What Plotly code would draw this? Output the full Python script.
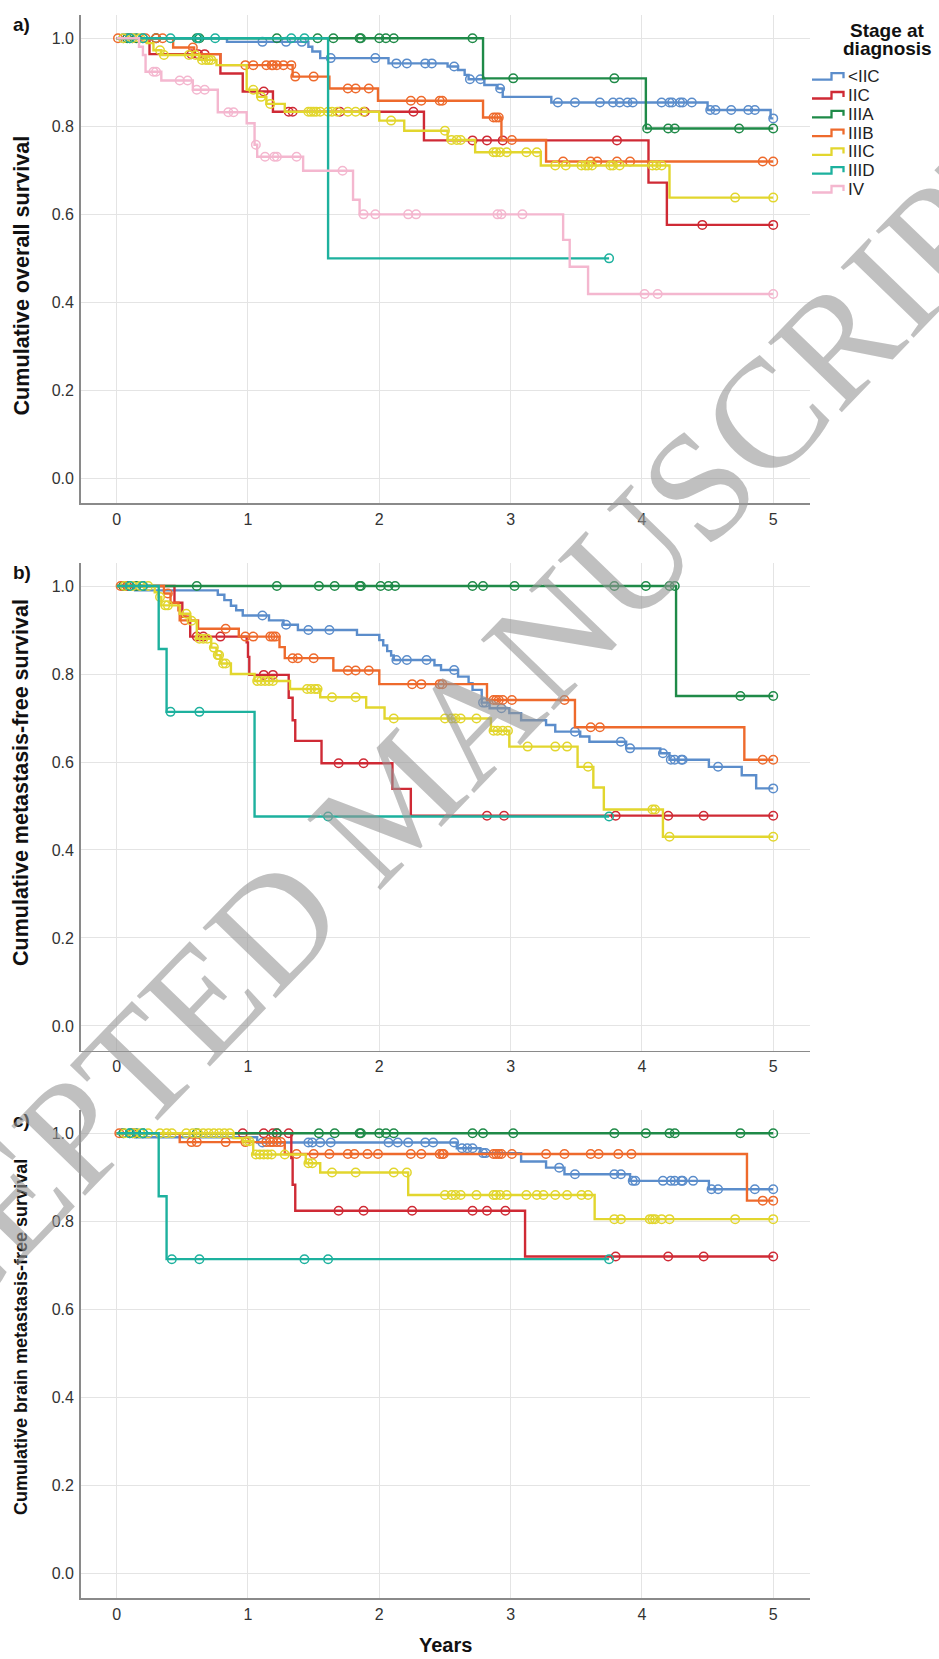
import plotly.graph_objects as go

W, H = 939, 1659

groups = ["<IIC", "IIC", "IIIA", "IIIB", "IIIC", "IIID", "IV"]
group_colors = ["#5B8DCB", "#CF2A35", "#1F8A48", "#EE6A2C", "#E2D62E", "#1DB19E", "#F4B7CF"]

# ---------------- Panel a: overall survival ----------------
os_ltIIC_t = [0.84, 1.46, 1.49, 1.55, 2.07, 2.52, 2.60, 2.65, 2.68, 2.80, 2.90, 2.94, 3.31, 4.50, 4.98]
os_ltIIC_s = [0.992, 0.981, 0.970, 0.955, 0.943, 0.936, 0.928, 0.917, 0.907, 0.894, 0.886, 0.867, 0.854, 0.837, 0.818]
os_ltIIC_c = [0.05, 0.12, 0.20, 0.30, 1.11, 1.29, 1.41, 1.63, 1.97, 2.13, 2.21, 2.35, 2.40, 2.57, 2.69, 2.77,
              2.92, 3.36, 3.49, 3.68, 3.78, 3.83, 3.89, 3.93, 4.15, 4.21, 4.23, 4.29, 4.31, 4.38, 4.52, 4.56,
              4.68, 4.81, 4.86, 5.0]

os_IIC_t = [0.25, 0.79, 0.96, 1.19, 2.34, 4.05, 4.19]
os_IIC_s = [0.964, 0.920, 0.879, 0.833, 0.768, 0.672, 0.576]
os_IIC_c = [0.10, 0.57, 0.62, 0.67, 1.12, 1.31, 1.34, 1.70, 1.89, 2.26, 2.71, 2.82, 2.94, 3.81, 4.46, 5.0]

os_IIIA_t = [2.79, 4.03]
os_IIIA_s = [0.909, 0.795]
os_IIIA_c = [0.08, 0.15, 0.30, 0.61, 0.63, 1.22, 1.53, 1.65, 1.85, 1.86, 2.00, 2.05, 2.11, 2.71, 3.02, 3.79,
             4.04, 4.20, 4.25, 4.74, 5.0]

os_IIIB_t = [0.43, 0.59, 0.79, 1.34, 1.62, 1.99, 2.79, 2.93, 3.27]
os_IIIB_s = [0.979, 0.964, 0.939, 0.913, 0.886, 0.858, 0.820, 0.769, 0.720]
os_IIIB_c = [0.01, 0.22, 0.30, 0.35, 0.58, 0.98, 1.04, 1.14, 1.18, 1.19, 1.22, 1.27, 1.33, 1.36, 1.50, 1.76,
             1.82, 1.92, 2.24, 2.32, 2.46, 2.48, 2.87, 2.89, 2.91, 3.01, 3.40, 3.61, 3.66, 3.81, 3.91, 4.92, 5.0]

os_IIIC_t = [0.23, 0.28, 0.34, 0.63, 0.76, 0.99, 1.07, 1.14, 1.28, 2.00, 2.19, 2.52, 2.73, 3.23, 4.21]
os_IIIC_s = [0.989, 0.973, 0.962, 0.951, 0.939, 0.883, 0.867, 0.851, 0.833, 0.813, 0.790, 0.769, 0.741, 0.711, 0.638]
os_IIIC_c = [0.05, 0.12, 0.18, 0.33, 0.36, 0.55, 0.60, 0.65, 0.68, 0.70, 0.72, 1.04, 1.10, 1.17, 1.46, 1.48,
             1.50, 1.52, 1.55, 1.61, 1.64, 1.68, 1.76, 1.82, 1.88, 2.09, 2.50, 2.55, 2.59, 2.62, 2.87, 2.89,
             2.92, 2.97, 3.12, 3.20, 3.34, 3.42, 3.54, 3.57, 3.59, 3.62, 3.76, 3.78, 3.83, 4.08, 4.11, 4.15,
             4.71, 5.0]

os_IIID_t = [1.61]
os_IIID_s = [0.5]
os_IIID_c = [0.10, 0.20, 0.41, 0.62, 0.75, 1.33, 1.43, 3.75]

os_IV_t = [0.17, 0.20, 0.22, 0.34, 0.58, 0.77, 0.99, 1.05, 1.07, 1.42, 1.80, 1.85, 3.40, 3.45, 3.59]
os_IV_s = [0.981, 0.962, 0.924, 0.904, 0.883, 0.832, 0.807, 0.758, 0.731, 0.699, 0.633, 0.600, 0.542, 0.481, 0.419]
os_IV_c = [0.28, 0.30, 0.48, 0.54, 0.61, 0.67, 0.85, 0.89, 1.06, 1.13, 1.20, 1.22, 1.37, 1.72, 1.88, 1.97,
           2.22, 2.28, 2.90, 2.93, 3.09, 4.02, 4.12, 5.0]

# ---------------- Panel b: metastasis-free survival ----------------
mfs_ltIIC_t = [0.14, 0.77, 0.82, 0.87, 0.91, 0.96, 1.16, 1.27, 1.38, 1.83, 2.00, 2.03, 2.06, 2.09, 2.11, 2.42,
               2.47, 2.60, 2.68, 2.71, 2.78, 2.84, 2.99, 3.08, 3.27, 3.34, 3.53, 3.60, 3.88, 4.14, 4.21, 4.51,
               4.76, 4.87]
mfs_ltIIC_s = [0.990, 0.980, 0.968, 0.955, 0.945, 0.933, 0.922, 0.912, 0.900, 0.889, 0.877, 0.865, 0.852, 0.842,
               0.832, 0.820, 0.809, 0.794, 0.779, 0.764, 0.735, 0.722, 0.711, 0.695, 0.684, 0.669, 0.658, 0.646,
               0.631, 0.620, 0.605, 0.589, 0.570, 0.540]
mfs_ltIIC_c = [0.05, 1.11, 1.29, 1.46, 1.62, 2.13, 2.21, 2.36, 2.57, 2.79, 2.81, 2.93, 3.49, 3.84, 3.91, 4.16,
               4.22, 4.25, 4.30, 4.31, 4.58, 5.0]

mfs_IIC_t = [0.44, 0.50, 0.56, 0.99, 1.00, 1.01, 1.31, 1.34, 1.36, 1.56, 2.10, 2.24]
mfs_IIC_s = [0.962, 0.930, 0.885, 0.872, 0.839, 0.798, 0.746, 0.695, 0.648, 0.597, 0.539, 0.478]
mfs_IIC_c = [0.08, 0.61, 0.66, 0.79, 1.12, 1.19, 1.69, 1.88, 2.82, 2.95, 3.80, 4.20, 4.47, 5.0]

mfs_IIIA_t = [4.26]
mfs_IIIA_s = [0.75]
mfs_IIIA_c = [0.05, 0.10, 0.15, 0.20, 0.61, 1.22, 1.54, 1.66, 1.85, 1.86, 2.01, 2.07, 2.12, 2.71, 2.79, 3.03,
              3.79, 4.03, 4.21, 4.25, 4.75, 5.0]

mfs_IIIB_t = [0.36, 0.41, 0.47, 0.48, 0.62, 0.93, 1.24, 1.28, 1.65, 2.00, 2.82, 3.49, 4.78]
mfs_IIIB_s = [0.983, 0.962, 0.945, 0.922, 0.903, 0.885, 0.861, 0.836, 0.808, 0.777, 0.741, 0.679, 0.605]
mfs_IIIB_c = [0.03, 0.39, 0.52, 0.83, 0.98, 1.04, 1.17, 1.19, 1.21, 1.34, 1.38, 1.50, 1.76, 1.82, 1.92, 2.25,
              2.32, 2.46, 2.48, 2.87, 2.89, 2.91, 2.94, 3.01, 3.41, 3.61, 3.68, 4.92, 5.0]

mfs_IIIC_t = [0.29, 0.32, 0.34, 0.48, 0.56, 0.61, 0.72, 0.76, 0.79, 0.87, 1.05, 1.32, 1.55, 1.90, 2.04, 2.85,
              2.99, 3.51, 3.63, 3.71, 4.16]
mfs_IIIC_s = [0.986, 0.975, 0.956, 0.937, 0.921, 0.880, 0.860, 0.843, 0.824, 0.800, 0.784, 0.766, 0.747, 0.724,
              0.699, 0.671, 0.635, 0.589, 0.542, 0.492, 0.430]
mfs_IIIC_c = [0.06, 0.12, 0.18, 0.24, 0.33, 0.37, 0.39, 0.53, 0.57, 0.63, 0.66, 0.69, 0.74, 0.77, 0.78, 0.81,
              0.83, 1.07, 1.10, 1.13, 1.16, 1.19, 1.45, 1.48, 1.51, 1.53, 1.64, 1.82, 2.11, 2.50, 2.55, 2.58,
              2.62, 2.74, 2.87, 2.90, 2.94, 2.98, 3.13, 3.34, 3.43, 3.59, 4.08, 4.10, 4.21, 5.0]

mfs_IIID_t = [0.32, 0.38, 1.05]
mfs_IIID_s = [0.857, 0.714, 0.476]
mfs_IIID_c = [0.10, 0.20, 0.41, 0.63, 1.61, 3.75]

# ---------------- Panel c: brain metastasis-free survival ----------------
bmfs_ltIIC_t = [0.14, 1.07, 2.59, 2.77, 3.08, 3.27, 3.41, 3.91, 4.51]
bmfs_ltIIC_s = [0.991, 0.979, 0.966, 0.955, 0.936, 0.922, 0.907, 0.892, 0.873]
bmfs_ltIIC_c = [0.05, 1.11, 1.46, 1.49, 1.55, 1.63, 2.07, 2.14, 2.22, 2.35, 2.41, 2.57, 2.63, 2.67, 2.71, 2.79,
                2.81, 3.37, 3.49, 3.79, 3.84, 3.93, 3.95, 4.16, 4.22, 4.25, 4.30, 4.31, 4.39, 4.53, 4.58, 4.86,
                5.0]

bmfs_IIC_t = [1.33, 1.34, 1.36, 3.11]
bmfs_IIC_s = [0.944, 0.883, 0.824, 0.720]
bmfs_IIC_c = [0.12, 0.96, 1.12, 1.19, 1.22, 1.31, 1.69, 1.88, 2.25, 2.71, 2.82, 2.96, 3.80, 4.20, 4.47, 5.0]

bmfs_IIIA_t = []
bmfs_IIIA_s = []
bmfs_IIIA_c = [0.05, 0.10, 0.15, 0.20, 0.61, 1.22, 1.54, 1.66, 1.85, 1.86, 2.00, 2.05, 2.11, 2.71, 2.79, 3.02,
               3.79, 4.03, 4.21, 4.25, 4.75, 5.0]

bmfs_IIIB_t = [0.48, 1.28, 4.80]
bmfs_IIIB_s = [0.980, 0.953, 0.847]
bmfs_IIIB_c = [0.02, 0.57, 0.61, 0.83, 0.98, 1.14, 1.17, 1.19, 1.22, 1.25, 1.37, 1.50, 1.62, 1.76, 1.81, 1.91,
               1.99, 2.24, 2.32, 2.46, 2.48, 2.49, 2.87, 2.89, 2.91, 2.93, 3.01, 3.27, 3.41, 3.61, 3.67, 3.82,
               3.92, 4.92, 5.0]

bmfs_IIIC_t = [0.89, 0.96, 1.04, 1.44, 1.55, 2.22, 3.64]
bmfs_IIIC_s = [0.989, 0.982, 0.952, 0.932, 0.911, 0.860, 0.805]
bmfs_IIIC_c = [0.06, 0.13, 0.18, 0.24, 0.33, 0.38, 0.42, 0.53, 0.58, 0.62, 0.66, 0.70, 0.74, 0.78, 0.82, 0.86,
               0.99, 1.01, 1.06, 1.09, 1.12, 1.15, 1.18, 1.28, 1.46, 1.49, 1.64, 1.82, 2.11, 2.21, 2.50, 2.55,
               2.58, 2.62, 2.74, 2.87, 2.89, 2.92, 2.97, 3.12, 3.20, 3.25, 3.34, 3.43, 3.54, 3.59, 3.79, 3.84,
               4.06, 4.08, 4.10, 4.15, 4.21, 4.71, 5.0]

bmfs_IIID_t = [0.32, 0.38]
bmfs_IIID_s = [0.857, 0.714]
bmfs_IIID_c = [0.10, 0.20, 0.42, 0.63, 1.43, 1.61, 3.75]

x_ticks = [0, 1, 2, 3, 4, 5]
y_ticks = [0.0, 0.2, 0.4, 0.6, 0.8, 1.0]
panel_labels = ["a)", "b)", "c)"]
panel_titles = ["Cumulative overall survival",
                "Cumulative metastasis-free survival",
                "Cumulative brain metastasis-free survival"]
x_title = "Years"
legend_title = ["Stage at", "diagnosis"]
watermark = "ACCEPTED MANUSCRIPT"

panels = [
    [("<IIC", os_ltIIC_t, os_ltIIC_s, os_ltIIC_c), ("IIC", os_IIC_t, os_IIC_s, os_IIC_c),
     ("IIIA", os_IIIA_t, os_IIIA_s, os_IIIA_c), ("IIIB", os_IIIB_t, os_IIIB_s, os_IIIB_c),
     ("IIIC", os_IIIC_t, os_IIIC_s, os_IIIC_c), ("IIID", os_IIID_t, os_IIID_s, os_IIID_c),
     ("IV", os_IV_t, os_IV_s, os_IV_c)],
    [("<IIC", mfs_ltIIC_t, mfs_ltIIC_s, mfs_ltIIC_c), ("IIC", mfs_IIC_t, mfs_IIC_s, mfs_IIC_c),
     ("IIIA", mfs_IIIA_t, mfs_IIIA_s, mfs_IIIA_c), ("IIIB", mfs_IIIB_t, mfs_IIIB_s, mfs_IIIB_c),
     ("IIIC", mfs_IIIC_t, mfs_IIIC_s, mfs_IIIC_c), ("IIID", mfs_IIID_t, mfs_IIID_s, mfs_IIID_c)],
    [("<IIC", bmfs_ltIIC_t, bmfs_ltIIC_s, bmfs_ltIIC_c), ("IIC", bmfs_IIC_t, bmfs_IIC_s, bmfs_IIC_c),
     ("IIIA", bmfs_IIIA_t, bmfs_IIIA_s, bmfs_IIIA_c), ("IIIB", bmfs_IIIB_t, bmfs_IIIB_s, bmfs_IIIB_c),
     ("IIIC", bmfs_IIIC_t, bmfs_IIIC_s, bmfs_IIIC_c), ("IIID", bmfs_IIID_t, bmfs_IIID_s, bmfs_IIID_c)],
]


def surv_at(ev_t, ev_s, t):
    v = 1.0
    for e, s in zip(ev_t, ev_s):
        if e <= t:
            v = s
    return v


FONT = "Liberation Sans, Arial, sans-serif"
TXT = "#333333"

# plot area geometry in pixels (top, bottom) per panel
x_left_px, x_right_px = 80.7, 810.0
panel_px = [(15.0, 503.0), (562.7, 1050.6), (1110.0, 1598.0)]
title_center_px = [275.5, 783, 1337]
title_size = [21.6, 21.5, 18]
label_y = [25, 572, 1120]

fig = go.Figure()
layout_axes = {}
for i, (traces, (top, bot)) in enumerate(zip(panels, panel_px)):
    k = "" if i == 0 else str(i + 1)
    xa, ya = "x" + k, "y" + k
    for name, ev_t, ev_s, cens in traces:
        col = group_colors[groups.index(name)]
        end = max(list(ev_t) + list(cens))
        xs = [0.0] + list(ev_t) + [end]
        ys = [1.0] + list(ev_s) + [ev_s[-1] if ev_s else 1.0]
        fig.add_trace(go.Scatter(x=xs, y=ys, mode="lines", line=dict(color=col, width=2.4, shape="hv"),
                                 xaxis=xa, yaxis=ya, showlegend=False, hoverinfo="skip"))
        cy = [surv_at(ev_t, ev_s, c) for c in cens]
        fig.add_trace(go.Scatter(x=cens, y=cy, mode="markers",
                                 marker=dict(symbol="circle-open", size=8.5, color=col,
                                             line=dict(width=1.5, color=col)),
                                 xaxis=xa, yaxis=ya, showlegend=False, hoverinfo="skip"))
    layout_axes["xaxis" + k] = dict(domain=[x_left_px / W, x_right_px / W], range=[-0.274, 5.28],
                                    anchor=ya, tickvals=x_ticks, showgrid=True, gridcolor="#e4e4e4",
                                    gridwidth=1, zeroline=False, showline=True, linecolor="#8a8a8a",
                                    linewidth=1.6, ticks="", tickfont=dict(family=FONT, size=16, color=TXT),
                                    ticklabelstandoff=1)
    layout_axes["yaxis" + k] = dict(domain=[1 - bot / H, 1 - top / H], range=[-0.056, 1.053],
                                    anchor=xa, tickvals=y_ticks, tickformat=".1f", showgrid=True,
                                    gridcolor="#e4e4e4", gridwidth=1, zeroline=False, showline=True,
                                    linecolor="#8a8a8a", linewidth=1.6, ticks="",
                                    tickfont=dict(family=FONT, size=16, color=TXT), ticklabelstandoff=2)

annotations = []
for i in range(3):
    annotations.append(dict(text="<b>%s</b>" % panel_labels[i], x=11 / W, y=1 - label_y[i] / H, xref="paper",
                            yref="paper", xanchor="left", yanchor="middle", showarrow=False,
                            font=dict(family=FONT, size=19, color="#111111")))
    annotations.append(dict(text="<b>%s</b>" % panel_titles[i], x=21 / W, y=1 - title_center_px[i] / H,
                            xref="paper", yref="paper", xanchor="center", yanchor="middle", textangle=-90,
                            showarrow=False, font=dict(family=FONT, size=title_size[i], color="#111111")))
annotations.append(dict(text="<b>%s</b>" % x_title, x=445 / W, y=1 - 1645 / H, xref="paper", yref="paper",
                        xanchor="center", yanchor="middle", showarrow=False,
                        font=dict(family=FONT, size=20, color="#111111")))
# legend
for j, (t, yy) in enumerate(zip(legend_title, [31, 49])):
    annotations.append(dict(text="<b>%s</b>" % t, x=887 / W, y=1 - yy / H, xref="paper", yref="paper",
                            xanchor="center", yanchor="middle", showarrow=False,
                            font=dict(family=FONT, size=19, color="#111111")))
shapes = []
for j, g in enumerate(groups):
    yc = 76.7 + j * 18.8
    x0, x1, x2 = 812 / W, 831.5 / W, 843.5 / W
    yl, yh, ym = 1 - (yc + 3) / H, 1 - (yc - 3.5) / H, 1 - (yc + 1.5) / H
    shapes.append(dict(type="path", xref="paper", yref="paper",
                       path="M %f,%f L %f,%f L %f,%f L %f,%f L %f,%f" % (x0, yl, x1, yl, x1, yh, x2, yh, x2, ym),
                       line=dict(color=group_colors[j], width=2.3)))
    annotations.append(dict(text=g, x=845.5 / W, y=1 - yc / H, xref="paper", yref="paper", xanchor="left",
                            yanchor="middle", showarrow=False, font=dict(family=FONT, size=17, color="#222222")))
# watermark
annotations.append(dict(text=watermark, x=395 / W, y=1 - 800 / H, xref="paper", yref="paper",
                        xanchor="center", yanchor="middle", showarrow=False, textangle=-46,
                        font=dict(family="Liberation Serif, Times New Roman, serif", size=155,
                                  color="rgba(150,150,150,0.6)")))

fig.update_layout(width=W, height=H, margin=dict(l=0, r=0, t=0, b=0), paper_bgcolor="white",
                  plot_bgcolor="white", showlegend=False, annotations=annotations, shapes=shapes,
                  **layout_axes)
fig.write_html("out.html", config={"displayModeBar": False, "staticPlot": True},
               post_script="document.body.style.margin='0';document.body.style.padding='0';"
                           "document.documentElement.style.overflow='hidden';")
